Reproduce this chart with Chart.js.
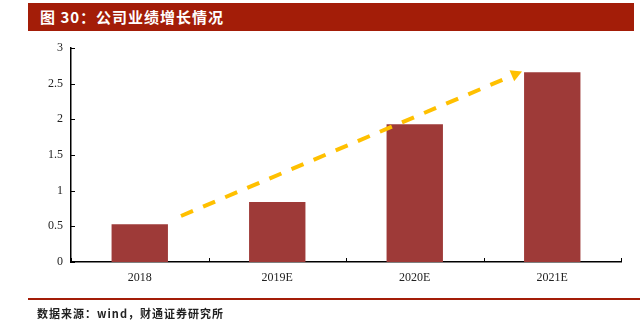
<!DOCTYPE html>
<html><head><meta charset="utf-8">
<script src="https://cdn.jsdelivr.net/npm/chart.js@4/dist/chart.umd.min.js"></script>
<style>
html,body{margin:0;padding:0;background:#fff;width:640px;height:328px;overflow:hidden;}
#wrap{position:relative;width:640px;height:328px;}
#title{position:absolute;left:28px;top:3px;width:606px;height:28px;background:#A31D08;color:#fff;
 font-family:"Noto Sans CJK SC",sans-serif;font-weight:bold;font-size:15px;line-height:28px;padding-left:12px;box-sizing:border-box;letter-spacing:1px;}
#rule{position:absolute;left:28px;top:298px;width:612px;height:2px;background:#A31D08;}
#src{position:absolute;left:37px;top:305px;font-family:"Noto Sans CJK SC",sans-serif;font-weight:bold;font-size:11px;color:#222;letter-spacing:1px;}
canvas{position:absolute;left:0;top:0;}
</style></head>
<body><div id="wrap">
<canvas id="c" width="640" height="328"></canvas>
<div id="title">图 30：公司业绩增长情况</div>
<div id="rule"></div>
<div id="src">数据来源：wind，财通证券研究所</div>
</div>
<script>
const categories = ["2018", "2019E", "2020E", "2021E"];
const performance = [0.53, 0.84, 1.93, 2.66];
const yTicks = [0, 0.5, 1, 1.5, 2, 2.5, 3];
// trend arrow in data units: [category index, value]
const arrowStart = [0.3, 0.645];
const arrowEnd = [2.78, 2.67];

const tickMarks = {
  id: 'tickMarks',
  afterDraw(chart) {
    const ctx = chart.ctx, x = chart.scales.x, y = chart.scales.y;
    ctx.save();
    ctx.strokeStyle = '#000'; ctx.lineWidth = 1;
    ctx.beginPath();
    for (let i = 0; i <= categories.length; i++) {
      const px = Math.round(x.getPixelForValue(i - 0.5)) + 0.5;
      ctx.moveTo(px, y.bottom); ctx.lineTo(px, y.bottom - 4);
    }
    yTicks.forEach(v => {
      const py = Math.round(y.getPixelForValue(v)) + 0.5;
      ctx.moveTo(x.left, py); ctx.lineTo(x.left + 4, py);
    });
    ctx.stroke();
    // arrow
    const x0 = x.getPixelForValue(arrowStart[0]), y0 = y.getPixelForValue(arrowStart[1]);
    const x1 = x.getPixelForValue(arrowEnd[0]), y1 = y.getPixelForValue(arrowEnd[1]);
    const ang = Math.atan2(y1 - y0, x1 - x0);
    const head = 11;
    const bx = x1 - Math.cos(ang) * head, by = y1 - Math.sin(ang) * head;
    ctx.strokeStyle = '#FFC000'; ctx.fillStyle = '#FFC000';
    ctx.lineWidth = 4; ctx.setLineDash([13, 11]);
    ctx.beginPath(); ctx.moveTo(x0, y0); ctx.lineTo(bx, by); ctx.stroke();
    ctx.setLineDash([]);
    ctx.beginPath();
    ctx.moveTo(x1, y1);
    ctx.lineTo(bx + Math.sin(ang) * 6, by - Math.cos(ang) * 6);
    ctx.lineTo(bx - Math.sin(ang) * 6, by + Math.cos(ang) * 6);
    ctx.closePath(); ctx.fill();
    ctx.restore();
  }
};

new Chart(document.getElementById('c'), {
  type: 'bar',
  data: {
    labels: categories,
    datasets: [{
      data: performance,
      backgroundColor: '#9E3A38',
      borderWidth: 0,
      categoryPercentage: 0.82,
      barPercentage: 0.5
    }]
  },
  options: {
    responsive: false,
    animation: false,
    events: [],
    layout: { padding: { top: 48, right: 19, left: 0, bottom: 0 } },
    plugins: { legend: { display: false }, tooltip: { enabled: false }, title: { display: false } },
    scales: {
      x: {
        grid: { display: false, drawTicks: false },
        border: { display: true, color: '#000', width: 1.5 },
        ticks: { padding: 9, color: '#222', font: { family: '"Liberation Serif", serif', size: 12 } },
        afterFit(s) { s.height = 66; }
      },
      y: {
        min: 0, max: 3,
        afterBuildTicks(s) { s.ticks = yTicks.map(v => ({ value: v })); },
        grid: { display: false, drawTicks: false },
        border: { display: true, color: '#000', width: 1.5 },
        ticks: { padding: 8, color: '#222', font: { family: '"Liberation Serif", serif', size: 12 },
                 callback: (v) => String(v) },
        afterFit(s) { s.width = 71; }
      }
    }
  },
  plugins: [tickMarks]
});
</script>
</body></html>
